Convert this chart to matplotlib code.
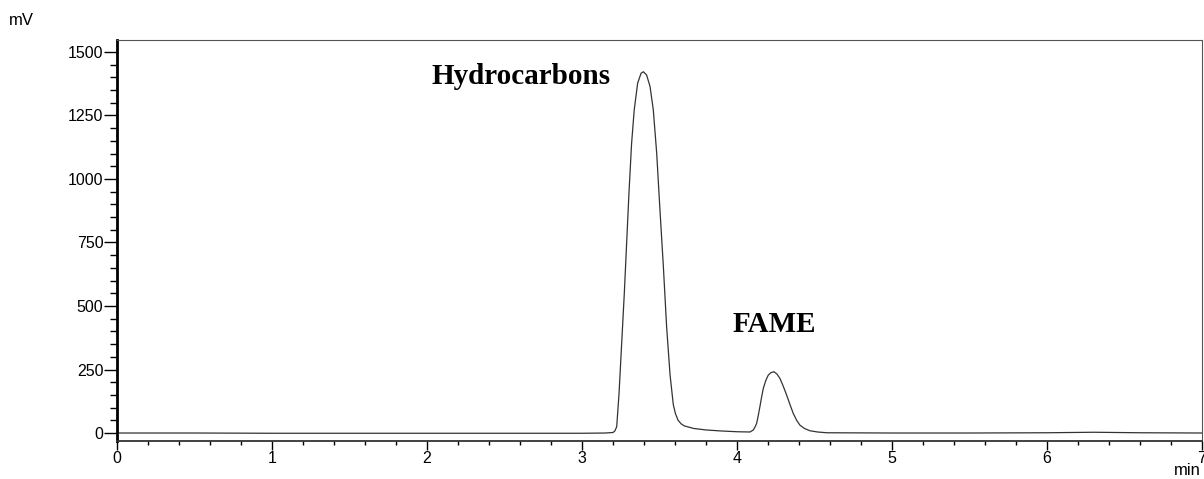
import numpy as np
import matplotlib.pyplot as plt
from matplotlib.ticker import MultipleLocator

# retention time (min) and detector signal (mV)
time_min = [0.00, 0.50, 1.00, 1.50, 2.00, 2.50, 3.00, 3.15, 3.20, 3.212,
            3.224, 3.239, 3.256, 3.273, 3.288, 3.303, 3.320, 3.337, 3.359,
            3.381, 3.396, 3.417, 3.439, 3.460, 3.482, 3.503, 3.525, 3.546,
            3.568, 3.589, 3.603, 3.620, 3.640, 3.660, 3.720, 3.800, 3.900,
            4.000, 4.084, 4.105, 4.115, 4.127, 4.137, 4.148, 4.159, 4.170,
            4.186, 4.202, 4.220, 4.239, 4.258, 4.277, 4.298, 4.320, 4.342,
            4.363, 4.385, 4.406, 4.435, 4.470, 4.520, 4.580, 5.00, 5.50,
            6.00, 6.30, 6.60, 7.00]
signal_mv = [0, 0, -1, -1, -1, -1, -1, 0, 2, 8,
             25, 156, 353, 550, 747, 944, 1140, 1272, 1377,
             1416, 1422, 1409, 1364, 1272, 1101, 878, 655, 418,
             230, 112, 76, 50, 36, 28, 18, 12, 8,
             5, 4, 12, 22, 38, 68, 104, 142, 176,
             207, 228, 238, 241, 232, 215, 185, 150, 112,
             77, 50, 31, 18, 9, 4, 1, 0, 0,
             1, 3, 1, 0]

peak_names = ['Hydrocarbons', 'FAME']
peak_label_pos = [(2.032, 1373), (3.974, 399)]

plt.rcParams['font.family'] = ['Liberation Sans', 'DejaVu Sans']

fig = plt.figure(figsize=(12.04, 4.79), dpi=100)
ax = fig.add_axes([0.0972, 0.0793, 0.9011, 0.8372])

ax.plot(time_min, signal_mv, color='#333333', lw=0.9)

ax.set_xlim(0, 7)
ax.set_ylim(-31.5, 1547)
ax.xaxis.set_major_locator(MultipleLocator(1))
ax.xaxis.set_minor_locator(MultipleLocator(0.2))
ax.yaxis.set_major_locator(MultipleLocator(250))
ax.yaxis.set_minor_locator(MultipleLocator(50))
ax.tick_params(axis='y', which='major', length=9.4, width=1, labelsize=11.5, pad=0.5)
ax.tick_params(axis='y', which='minor', length=5, width=1)
ax.tick_params(axis='x', which='major', length=6.5, width=1, labelsize=11.5, pad=0.5)
ax.tick_params(axis='x', which='minor', length=3, width=1)

for side in ['top', 'right']:
    ax.spines[side].set_color('#555555')
    ax.spines[side].set_linewidth(0.8)
ax.spines['left'].set_linewidth(2.0)
ax.spines['bottom'].set_linewidth(1.3)
ax.spines['bottom'].set_color('#333333')

for name, (px, py) in zip(peak_names, peak_label_pos):
    ax.text(px, py, name, family='Liberation Serif', fontweight='bold',
            fontsize=21, ha='left', va='baseline')

fig.text(0.007, 0.958, 'mV', fontsize=12, ha='left', va='center')
fig.text(0.997, 0.017, 'min', fontsize=12, ha='right', va='center')

fig.savefig('out.png', dpi=100)
